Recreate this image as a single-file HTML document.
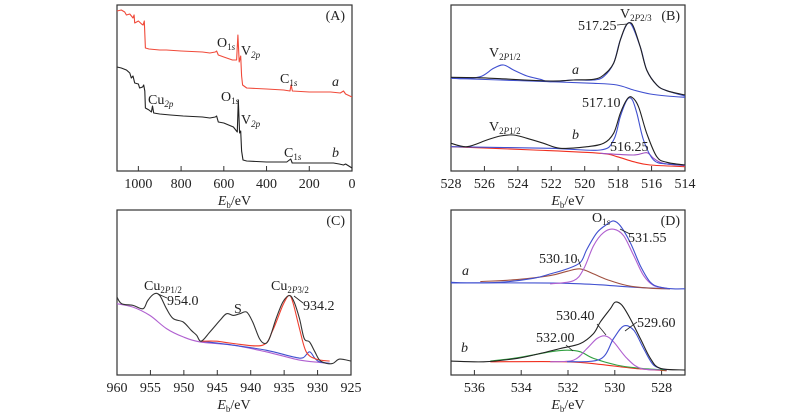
<!DOCTYPE html>
<html><head><meta charset="utf-8"><style>
html,body{margin:0;padding:0;background:#fff;width:800px;height:417px;overflow:hidden}
svg{display:block}
text{font-family:"Liberation Serif",serif;fill:#222}
</style></head><body>
<svg id="fig" width="800" height="417" viewBox="0 0 800 417" xmlns="http://www.w3.org/2000/svg"></svg>
<script>
// ---------- Panel A (survey) ----------
const aRedEv=[1100,1080,1064,1056,1040,1025,1020,1017,1000,985,978,972,967,950,900,869,800,700,665,640,634,626,600,560,540,534,528,521,517,512,493,400,320,290,285,279,200,100,55,40,30,0];
const aRedI=[160,161,159,156,157,153,156,148,150,147,146,150,123,122,121,121,120,119,118,119,120,116,114,111,111,136,109,115,95,86,83,82,81,80,86,80,79,79,78,80,77,74];
const aBlkEv=[1100,1080,1056,1040,1033,1025,1017,1000,994,980,975,970,967,950,939,934,928,900,850,790,700,665,640,634,626,600,555,537,532,526,521,517,510,493,400,305,287,280,200,87,60,40,30,0];
const aBlkI=[104,103,101,98,93,95,88,87,83,84,86,80,63,61,59,65,58,57,56,55,54,53,54,55,49,48,44,39,71,38,40,20,11,10,9,9,12,8,8,8,7,6,7,3];
const aTicks=[1000,800,600,400,200,0];
// ---------- Panel B (V2p) ----------
const bAEnvEv=[528,526.45,525.05,522.06,520.67,519.47,518.87,518.27,517.87,517.57,517.32,517.08,516.68,516.29,515.69,515.09,514];
const bAEnvI=[93.7,93.3,92.3,90,91,91.7,96,107.7,131,144.3,148.3,144.3,124.3,101,86,80.3,76];
const bADataEv=[528,527.44,526.25,525.45,524.85,524.26,523.45,522.66,522.06,520.67,519.47,518.87,518.27,517.87,517.32,516.68,516.29,515.69,515.09,514];
const bADataI=[93.7,92.3,94.3,102.7,106,101,95,91.7,89.3,91,91,94.3,107.7,131,148.3,124.3,101,86,80.3,75];
const bABaseEv=[528,525.05,522.06,519.47,518.07,517.08,516.08,515.09,514];
const bABaseI=[92.7,91,89.3,87.7,86,81,77,75,73.7];
const bBDataEv=[528,527.04,525.85,525.05,524.26,523.45,522.46,521.46,519.87,518.87,518.27,517.87,517.47,517.17,516.78,516.29,515.69,515.09,514];
const bBDataI=[27.7,24.3,31,35,36,32.7,27.7,22.7,24.3,27.7,37.7,57.7,71.7,73.7,64.3,37.7,14.3,8.7,6];
const bBFitEv=[528,522.06,519.07,518.27,517.87,517.47,517.17,516.88,516.48,515.88,515.09,514];
const bBFitI=[24.3,22.7,21,31,54.3,71,71.7,57.7,31,11,7,6];
const bBBaseEv=[528,523.06,519.07,518.07,517.08,516.08,514];
const bBBaseI=[24.3,21,17.7,14.3,9.3,6,4.3];
const bBSmallEv=[519.07,517.08,516.29,515.88,515.29,514];
const bBSmallI=[17.7,16,18.3,12.7,7.7,5.3];
const bTicks=[528,526,524,522,520,518,516,514];
// ---------- Panel C (Cu2p) ----------
const cDataEv=[960,959.3,957.6,956.1,955.4,954.4,953.6,952.6,951.6,950.1,948.9,948.1,947.4,946.1,944.6,943.6,942.6,941.6,940.6,939.7,938.7,937.9,937.2,936.2,935.2,934.2,933.5,932.7,932.0,931.2,930.4,929.7,928.7,927.7,926.7,925];
const cDataI=[78.3,71.7,70,66.7,75,81.7,80,66.7,56.7,53.3,45,40,34,43.3,55,61.7,60,61.7,63.3,53.3,36.7,31.7,36.7,56.7,73.3,80,73.3,56.7,36.7,33.3,23.3,15,11.7,11.7,16,14];
const cBaseEv=[960,957.6,955.1,952.6,950.1,947.6,942.6,937.7,932.7,929.7,928.2];
const cBaseI=[71.7,68.3,60,46.7,38.3,33.3,30,23.3,15,12.7,11.7];
const cBlueEv=[947.4,942.6,937.7,933.7,932.2,931.2,930.4,929.7,928.2];
const cBlueI=[34,30,25,18.3,17.3,23.3,16.7,13.3,11.7];
const cRedEv=[947.4,945.1,942.6,938.2,936.7,935.2,934.3,933.7,932.7,931.7,930.2,928.2];
const cRedI=[34,34,31.7,30,45,70,80,73.3,46.7,23.3,16,14];
const cTicks=[960,955,950,945,940,935,930,925];
// ---------- Panel D (O1s) ----------
const dADataEv=[537,536.32,534.89,533.47,532.76,532.04,531.47,531.19,530.76,530.33,530.05,529.76,529.34,528.91,528.48,528.06,527.5,527];
const dADataI=[93.3,92.7,93.3,97.3,101.7,106.7,113.3,126.7,143.3,151.7,155,150,133.3,110,93.3,88.3,86.7,86.7];
const dAPurpEv=[532.76,531.76,531.33,530.91,530.48,530.05,529.62,529.19,528.77,528.34,527.78];
const dAPurpI=[91.7,95,106.7,130,143.3,146.7,140,120,100,90,87.3];
const dABrownEv=[535.75,534.18,532.76,532.04,531.47,530.91,530.33,529.48,528.48,527.64];
const dABrownI=[94,96,100,104.3,106.7,101.7,96,90,87.3,86.7];
const dABaseEv=[537,533.47,532.04,530.62,529.19,527.64];
const dABaseI=[92.7,92.7,92.3,90.7,88.3,86.7];
const dBDataEv=[537,535.61,534.18,533.18,532.33,531.47,530.91,530.62,530.19,529.98,529.69,529.34,528.91,528.48,528.06,527];
const dBDataI=[14,13.3,16.7,21.7,26.7,31.7,41.7,53.3,66.7,73.3,70,56.7,36.7,16.7,6.7,5];
const dBGreenEv=[535.32,534.18,532.76,532.04,531.47,530.91,529.91,528.91,527.78];
const dBGreenI=[14,17.3,23.3,25,23.3,16.7,10,6.7,5];
const dBPurpEv=[532.76,531.76,531.19,530.76,530.40,530.05,529.48,528.91,528.06];
const dBPurpI=[13.3,15,26.7,36.7,39.3,33.3,16.7,6.7,5];
const dBBlueEv=[532.04,530.62,530.05,529.62,529.19,528.77,528.34,527.78];
const dBBlueI=[13.3,16,36.7,49.3,45,26.7,10,5];
const dBRedEv=[535.32,532.04,530.62,529.19,527.78];
const dBRedI=[13.3,13.3,10.7,6.7,4.3];
const dTicks=[536,534,532,530,528];

const NS='http://www.w3.org/2000/svg';
const svg=document.getElementById('fig');
function mk(tag,attrs,parent){const e=document.createElementNS(NS,tag);for(const k in attrs)e.setAttribute(k,attrs[k]);(parent||svg).appendChild(e);return e;}
function scaleX(p,v){return p.x0+(p.d0-v)/(p.d0-p.d1)*(p.x1-p.x0);}
function scaleY(p,v){return p.y1-v*(p.y1-p.y0)/166;}
function pathD(p,ev,I,smooth){
  const pts=ev.map((e,i)=>[scaleX(p,e),scaleY(p,I[i])]);
  let d='M'+pts[0][0].toFixed(1)+','+pts[0][1].toFixed(1);
  for(let i=1;i<pts.length;i++){
    if(!smooth){d+='L'+pts[i][0].toFixed(1)+','+pts[i][1].toFixed(1);continue;}
    const p0=pts[i-2]||pts[i-1],p1=pts[i-1],p2=pts[i],p3=pts[i+1]||p2;
    const c1=[p1[0]+(p2[0]-p0[0])/6,p1[1]+(p2[1]-p0[1])/6],c2=[p2[0]-(p3[0]-p1[0])/6,p2[1]-(p3[1]-p1[1])/6];
    d+='C'+c1.map(v=>v.toFixed(1))+' '+c2.map(v=>v.toFixed(1))+' '+p2.map(v=>v.toFixed(1));
  }
  return d;
}
function series(p,g,ev,I,color,name,smooth){
  const e=mk('path',{d:pathD(p,ev,I,smooth),fill:'none',stroke:color,'stroke-width':1.1,'stroke-linejoin':'round'},g);
  
  
}
function panel(p,ticks,name){
  const g=mk('g',{});
  
  
  const fr=mk('rect',{x:p.x0,y:p.y0,width:p.x1-p.x0,height:p.y1-p.y0,fill:'none',stroke:'#333','stroke-width':1.2},g);
  
  
  ticks.forEach(t=>{
    const x=scaleX(p,t);
    const tk=mk('line',{x1:x,x2:x,y1:p.y1,y2:p.y1-5,stroke:'#333','stroke-width':1},g);
    
    
    const tl=mk('text',{x:x,y:p.y1+17,'text-anchor':'middle','font-size':14},g);
    tl.textContent=String(t);
    
    
  });
  const xl=mk('text',{x:(p.x0+p.x1)/2,y:p.y1+34,'text-anchor':'middle','font-size':14},g);
  xl.innerHTML='<tspan font-style="italic">E</tspan><tspan font-size="9" dy="3">b</tspan><tspan dy="-3">/eV</tspan>';
  
  
  return g;
}
function label(g,x,y,html,name,size,anchor){
  const t=mk('text',{x:x,y:y,'font-size':size||14,'text-anchor':anchor||'start'},g);
  t.innerHTML=html;
  
  
}
function lead(g,x1,y1,x2,y2){
  const l=mk('line',{x1:x1,y1:y1,x2:x2,y2:y2,stroke:'#222','stroke-width':0.8},g);
  
  
}
const sub=(s)=>'<tspan font-size="9" dy="3">'+s+'</tspan><tspan dy="-3"></tspan>';
const subi=(s)=>'<tspan font-size="9" dy="3" font-style="italic">'+s+'</tspan><tspan dy="-3"></tspan>';

// Panel A
const pA={x0:117,x1:352,y0:5,y1:171,d0:1100,d1:0};
const gA=panel(pA,aTicks,'panel-a-survey');
series(pA,gA,aRedEv,aRedI,'#f04a3a','spectrum-a',false);
series(pA,gA,aBlkEv,aBlkI,'#222','spectrum-b',false);
label(gA,345,20,'(A)','panel-label-a',14,'end');
label(gA,217,47,'O'+sub('1<tspan font-style="italic">s</tspan>'),'o1s-label-a');
label(gA,241,55,'V'+subi('2p'),'v2p-label-a');
label(gA,280,83,'C'+sub('1<tspan font-style="italic">s</tspan>'),'c1s-label-a');
label(gA,332,86,'<tspan font-style="italic">a</tspan>','curve-label-a');
label(gA,148,104,'Cu'+subi('2p'),'cu2p-label');
label(gA,221,101,'O'+sub('1<tspan font-style="italic">s</tspan>'),'o1s-label-b');
label(gA,241,124,'V'+subi('2p'),'v2p-label-b');
label(gA,284,157,'C'+sub('1<tspan font-style="italic">s</tspan>'),'c1s-label-b');
label(gA,332,157,'<tspan font-style="italic">b</tspan>','curve-label-b');

// Panel B
const pB={x0:451,x1:685,y0:5,y1:171,d0:528,d1:514};
const gB=panel(pB,bTicks,'panel-b-v2p');
series(pB,gB,bABaseEv,bABaseI,'#4050d0','baseline-a',true);
series(pB,gB,bADataEv,bADataI,'#4050d0','fit-a',true);
series(pB,gB,bAEnvEv,bAEnvI,'#222','data-a',true);
series(pB,gB,bBBaseEv,bBBaseI,'#f03020','baseline-b',true);
series(pB,gB,bBSmallEv,bBSmallI,'#a050c0','peak-51625',true);
series(pB,gB,bBFitEv,bBFitI,'#4050d0','fit-b',true);
series(pB,gB,bBDataEv,bBDataI,'#222','data-b',true);
label(gB,680,20,'(B)','panel-label-b',14,'end');
label(gB,620,18,'V'+'<tspan font-size="9" dy="3">2<tspan font-style="italic">P</tspan>2/3</tspan><tspan dy="-3"></tspan>','v2p23-label-a');
label(gB,578,30,'517.25','peak-517-25');
lead(gB,617,25,627,24);
label(gB,489,57,'V'+'<tspan font-size="9" dy="3">2<tspan font-style="italic">P</tspan>1/2</tspan><tspan dy="-3"></tspan>','v2p12-label-a');
label(gB,572,74,'<tspan font-style="italic">a</tspan>','curve-label-a');
label(gB,582,107,'517.10','peak-517-10');
label(gB,489,131,'V'+'<tspan font-size="9" dy="3">2<tspan font-style="italic">P</tspan>1/2</tspan><tspan dy="-3"></tspan>','v2p12-label-b');
label(gB,572,139,'<tspan font-style="italic">b</tspan>','curve-label-b');
label(gB,610,151,'516.25','peak-516-25');

// Panel C
const pC={x0:117,x1:351,y0:210,y1:375,d0:960,d1:925};
const gC=panel(pC,cTicks,'panel-c-cu2p');
series(pC,gC,cBaseEv,cBaseI,'#b060d0','baseline',true);
series(pC,gC,cBlueEv,cBlueI,'#4050d0','peak-931',true);
series(pC,gC,cRedEv,cRedI,'#f04030','peak-934',true);
series(pC,gC,cDataEv,cDataI,'#333','data',true);
label(gC,345,225,'(C)','panel-label-c',14,'end');
label(gC,144,290,'Cu'+'<tspan font-size="9" dy="3">2<tspan font-style="italic">P</tspan>1/2</tspan><tspan dy="-3"></tspan>','cu2p12-label');
label(gC,167,305,'954.0','peak-954');
lead(gC,158,294,167,298);
label(gC,234,313,'S','satellite-label');
label(gC,271,290,'Cu'+'<tspan font-size="9" dy="3">2<tspan font-style="italic">P</tspan>3/2</tspan><tspan dy="-3"></tspan>','cu2p32-label');
label(gC,303,310,'934.2','peak-934-2');
lead(gC,294,296,303,303);

// Panel D
const pD={x0:451,x1:685,y0:210,y1:375,d0:537,d1:527};
const gD=panel(pD,dTicks,'panel-d-o1s');
series(pD,gD,dABaseEv,dABaseI,'#4050d0','baseline-a',true);
series(pD,gD,dABrownEv,dABrownI,'#a05040','peak-530-10',true);
series(pD,gD,dAPurpEv,dAPurpI,'#b060d0','peak-531-55',true);
series(pD,gD,dADataEv,dADataI,'#4050d0','data-a',true);
series(pD,gD,dBRedEv,dBRedI,'#f03020','baseline-b',true);
series(pD,gD,dBGreenEv,dBGreenI,'#30a040','peak-532-00',true);
series(pD,gD,dBPurpEv,dBPurpI,'#b060d0','peak-530-40',true);
series(pD,gD,dBBlueEv,dBBlueI,'#4050d0','peak-529-60',true);
series(pD,gD,dBDataEv,dBDataI,'#222','data-b',true);
label(gD,680,225,'(D)','panel-label-d',14,'end');
label(gD,592,222,'O'+sub('1<tspan font-style="italic">s</tspan>'),'o1s-label');
label(gD,628,242,'531.55','peak-531-55-label');
lead(gD,620,229,630,234);
label(gD,539,263,'530.10','peak-530-10-label');
lead(gD,578,259,581,267);
label(gD,462,275,'<tspan font-style="italic">a</tspan>','curve-label-a');
label(gD,556,320,'530.40','peak-530-40-label');
lead(gD,597,324,606,335);
label(gD,637,327,'529.60','peak-529-60-label');
lead(gD,637,322,625,331);
label(gD,536,342,'532.00','peak-532-label');
lead(gD,566,345,573,351);
label(gD,461,352,'<tspan font-style="italic">b</tspan>','curve-label-b');
</script>
</body></html>
